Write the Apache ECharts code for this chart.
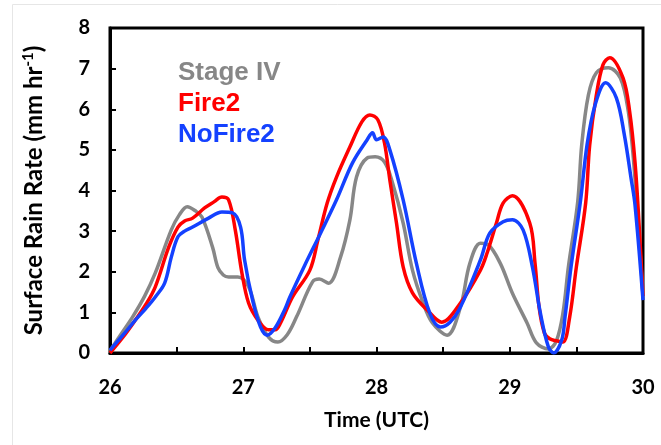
<!DOCTYPE html>
<html>
<head>
<meta charset="utf-8">
<script src="https://cdn.jsdelivr.net/npm/echarts@6/dist/echarts.min.js"></script>
<style>
  html, body { margin: 0; padding: 0; background: #fff; }
  #chart { width: 661px; height: 445px; }
</style>
</head>
<body>
<div id="chart"></div>
<script>
// x tick labels (day of month, UTC) and y ticks
var xTicks = [26, 27, 28, 29, 30]
var yTicks = [0, 1, 2, 3, 4, 5, 6, 7, 8]

// Stage IV (observed)
var stageT = [26.0, 26.08, 26.17, 26.26, 26.34, 26.46, 26.52, 26.58, 26.64, 26.69, 26.77, 26.81, 26.85, 26.89, 26.96, 27.04, 27.11, 27.19, 27.26, 27.33, 27.40, 27.52, 27.57, 27.64, 27.73, 27.80, 27.85, 27.93, 27.99, 28.06, 28.12, 28.20, 28.27, 28.35, 28.42, 28.53, 28.63, 28.70, 28.78, 28.84, 28.93, 29.02, 29.13, 29.20, 29.29, 29.35, 29.40, 29.44, 29.51, 29.54, 29.59, 29.65, 29.74, 29.83, 29.89, 29.93, 29.97, 30.0]
var stageV = [0.05, 0.45, 0.89, 1.4, 1.97, 3.03, 3.4, 3.6, 3.5, 3.35, 2.6, 2.1, 1.92, 1.87, 1.87, 1.63, 0.89, 0.39, 0.27, 0.45, 0.89, 1.75, 1.82, 1.72, 2.36, 3.27, 4.33, 4.8, 4.83, 4.7, 4.19, 3.2, 2.04, 1.23, 0.74, 0.44, 1.13, 2.2, 2.7, 2.66, 2.2, 1.47, 0.74, 0.25, 0.1, 0.3, 1.0, 2.12, 3.72, 5.12, 6.35, 6.9, 7.02, 6.77, 5.94, 4.7, 2.9, 1.4]

// Fire2
var fireT = [26.0, 26.1, 26.19, 26.27, 26.34, 26.44, 26.51, 26.56, 26.62, 26.71, 26.78, 26.84, 26.89, 26.94, 26.99, 27.04, 27.11, 27.19, 27.24, 27.28, 27.37, 27.50, 27.56, 27.63, 27.70, 27.80, 27.89, 27.95, 28.01, 28.06, 28.10, 28.15, 28.20, 28.27, 28.38, 28.49, 28.63, 28.78, 28.83, 28.90, 28.95, 29.02, 29.15, 29.19, 29.22, 29.26, 29.30, 29.35, 29.40, 29.45, 29.50, 29.57, 29.60, 29.65, 29.70, 29.75, 29.85, 29.90, 29.94, 29.97, 30.0]
var fireV = [0.0, 0.4, 0.81, 1.2, 1.63, 2.6, 3.1, 3.25, 3.32, 3.57, 3.72, 3.84, 3.77, 3.03, 1.97, 1.23, 0.81, 0.57, 0.57, 0.74, 1.38, 2.04, 2.78, 3.69, 4.33, 5.07, 5.69, 5.86, 5.74, 5.17, 4.26, 3.2, 2.12, 1.48, 1.06, 0.76, 1.23, 2.04, 2.46, 3.2, 3.69, 3.87, 3.2, 2.2, 1.13, 0.49, 0.35, 0.3, 0.27, 0.89, 2.12, 3.7, 5.12, 6.35, 7.1, 7.27, 6.77, 5.94, 4.7, 3.2, 1.4]

// NoFire2
var noT = [26.0, 26.1, 26.19, 26.27, 26.34, 26.41, 26.46, 26.51, 26.56, 26.62, 26.74, 26.84, 26.92, 26.98, 27.01, 27.07, 27.13, 27.18, 27.24, 27.31, 27.35, 27.46, 27.58, 27.70, 27.82, 27.93, 27.97, 28.00, 28.05, 28.10, 28.20, 28.30, 28.40, 28.48, 28.55, 28.63, 28.78, 28.85, 28.95, 29.02, 29.10, 29.17, 29.23, 29.29, 29.33, 29.39, 29.415, 29.46, 29.53, 29.58, 29.64, 29.72, 29.80, 29.86, 29.91, 29.94, 30.0]
var noV = [0.07, 0.45, 0.81, 1.1, 1.38, 1.72, 2.36, 2.86, 3.0, 3.1, 3.32, 3.47, 3.45, 3.1, 2.29, 1.3, 0.64, 0.44, 0.62, 1.06, 1.38, 2.15, 2.95, 3.77, 4.68, 5.25, 5.42, 5.25, 5.32, 5.0, 3.77, 2.2, 0.98, 0.64, 0.75, 1.13, 2.29, 2.95, 3.23, 3.28, 3.03, 2.12, 0.98, 0.15, 0.0, 0.32, 0.89, 2.12, 3.72, 5.12, 6.1, 6.65, 6.28, 5.37, 4.31, 3.65, 1.3]

var GRAY = '#878787'
var RED = '#ff0000'
var BLUE = '#1441ff'

function pairs(t, v) {
  return t.map(function (x, i) { return [x, v[i]] })
}

function lineSeries(name, t, v, color) {
  return {
    name: name,
    type: 'line',
    data: pairs(t, v),
    smooth: 0.35,
    showSymbol: false,
    lineStyle: { color: color, width: 3.5 },
    itemStyle: { color: color },
    emphasis: { disabled: true }
  }
}

var chart = echarts.init(document.getElementById('chart'))
var tickFont = { fontFamily: 'Lato', fontWeight: 'bold', fontSize: 20, color: '#000' }

var option = {
  backgroundColor: '#fff',
  animation: false,
  graphic: [{
    type: 'rect',
    silent: true,
    shape: { x: 12.5, y: 4.5, width: 700, height: 500 },
    style: { fill: 'none', stroke: '#e6e6e6', lineWidth: 1 }
  }],
  grid: {
    left: 110, right: 18, top: 28, bottom: 92,
    show: true, borderColor: '#000', borderWidth: 3, backgroundColor: 'transparent'
  },
  legend: {
    orient: 'vertical',
    left: 168, top: 55,
    itemGap: 5,
    itemWidth: 0, itemHeight: 26,
    icon: 'none',
    selectedMode: false,
    textStyle: { fontFamily: 'Liberation Sans', fontWeight: 'bold', fontSize: 26 },
    data: [
      { name: 'Stage IV', textStyle: { color: GRAY } },
      { name: 'Fire2', textStyle: { color: RED } },
      { name: 'NoFire2', textStyle: { color: BLUE } }
    ]
  },
  xAxis: {
    type: 'value',
    min: xTicks[0], max: xTicks[xTicks.length - 1], interval: 0.5,
    name: 'Time (UTC)',
    nameLocation: 'middle',
    nameGap: 57,
    nameTextStyle: { fontFamily: 'Lato', fontWeight: 'bold', fontSize: 21, color: '#000' },
    axisLine: { lineStyle: { color: '#000', width: 3 } },
    axisTick: { inside: true, length: 6, lineStyle: { color: '#000', width: 2 } },
    axisLabel: Object.assign({
      margin: 25,
      formatter: function (v) { return xTicks.indexOf(v) >= 0 ? String(v) : '' }
    }, tickFont),
    splitLine: { show: false }
  },
  yAxis: {
    type: 'value',
    min: yTicks[0], max: yTicks[yTicks.length - 1], interval: 1,
    name: 'Surface Rain Rate (mm hr{sup|-1})',
    nameLocation: 'middle',
    nameGap: 63,
    nameTextStyle: {
      fontFamily: 'Lato', fontWeight: 'bold', fontSize: 24, color: '#000',
      rich: {
        sup: { fontFamily: 'Lato', fontWeight: 'bold', fontSize: 15, color: '#000', verticalAlign: 'top', padding: [0, 0, 11, 0] }
      }
    },
    axisLine: { lineStyle: { color: '#000', width: 3 } },
    axisTick: { inside: true, length: 6, lineStyle: { color: '#000', width: 2 } },
    axisLabel: Object.assign({ margin: 20 }, tickFont),
    splitLine: { show: false }
  },
  series: [
    lineSeries('Stage IV', stageT, stageV, GRAY),
    lineSeries('Fire2', fireT, fireV, RED),
    lineSeries('NoFire2', noT, noV, BLUE)
  ]
}

chart.setOption(option)
window.addEventListener('resize', function () { chart.resize() })
</script>
</body>
</html>
